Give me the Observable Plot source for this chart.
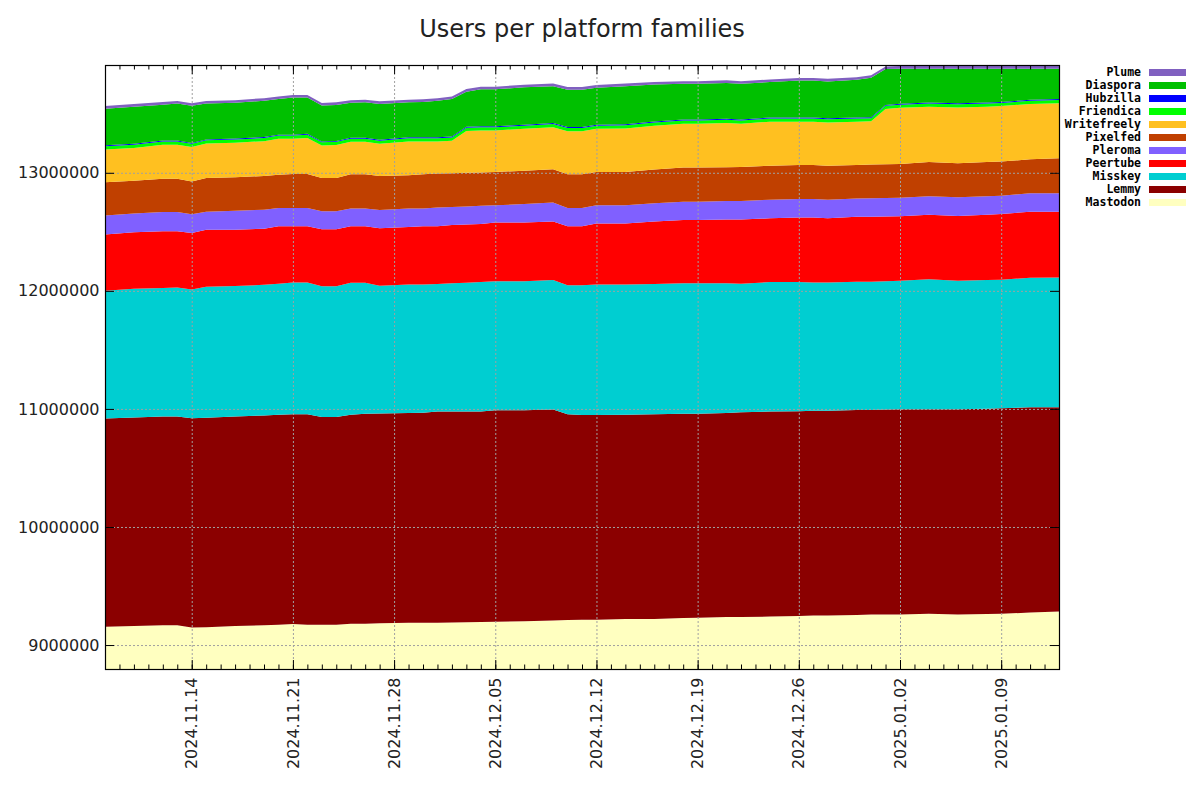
<!DOCTYPE html>
<html>
<head>
<meta charset="utf-8">
<script src="https://cdn.jsdelivr.net/npm/d3@7"></script>
<script src="https://cdn.jsdelivr.net/npm/@observablehq/plot@0.6"></script>
<style>
  body { margin: 0; background: #fff; }
  #wrap { position: relative; width: 1200px; height: 800px; background: #fff; }
  #title { height: 33px; padding-top: 17px; line-height: 24px; text-align: center;
           font-family: "DejaVu Sans", sans-serif; font-size: 24px; color: #222;
           width: 954px; margin-left: 105px; }
  .lg-text { position: absolute; right: 59px; height: 13px; line-height: 13px;
             font-family: "DejaVu Sans Mono", monospace; font-weight: bold; font-size: 11.5px; color: #000; text-align: right; }
  .lg-sw { position: absolute; left: 1149px; width: 37px; height: 7px; }
</style>
</head>
<body>
<div id="wrap">
  <div id="title">Users per platform families</div>
  <div id="chart"></div>
  <div id="legend"></div>
</div>
<script>
// ---- data (users) ----
const dates = ["2024-11-08","2024-11-10","2024-11-12","2024-11-13","2024-11-14","2024-11-15","2024-11-17","2024-11-19","2024-11-20","2024-11-21","2024-11-22","2024-11-23","2024-11-24","2024-11-25","2024-11-26","2024-11-27","2024-11-29","2024-11-30","2024-12-01","2024-12-02","2024-12-03","2024-12-04","2024-12-05","2024-12-07","2024-12-09","2024-12-10","2024-12-11","2024-12-12","2024-12-14","2024-12-16","2024-12-18","2024-12-19","2024-12-21","2024-12-22","2024-12-24","2024-12-26","2024-12-27","2024-12-28","2024-12-30","2024-12-31","2025-01-01","2025-01-02","2025-01-04","2025-01-06","2025-01-08","2025-01-09","2025-01-11","2025-01-13"];

const mastodon = [9154000,9161000,9168000,9168000,9148000,9151000,9161000,9168000,9172000,9178000,9171000,9171000,9171000,9181000,9181000,9184000,9188000,9188000,9188000,9191000,9193000,9195000,9198000,9201000,9208000,9212000,9215000,9215000,9221000,9221000,9228000,9231000,9238000,9238000,9241000,9245000,9251000,9251000,9255000,9258000,9258000,9258000,9265000,9258000,9262000,9265000,9275000,9285000];
const lemmy = [1764000,1767000,1767000,1767000,1773000,1774000,1774000,1777000,1779000,1777000,1784000,1760000,1760000,1770000,1777000,1778000,1777000,1780000,1790000,1787000,1785000,1783000,1790000,1787000,1787000,1743000,1733000,1733000,1730000,1734000,1730000,1727000,1727000,1733000,1737000,1736000,1734000,1734000,1736000,1733000,1737000,1740000,1733000,1740000,1739000,1740000,1740000,1730000];
const misskey = [1083000,1090000,1090000,1093000,1090000,1109000,1106000,1106000,1110000,1116000,1116000,1107000,1107000,1117000,1110000,1082000,1089000,1086000,1080000,1086000,1090000,1096000,1093000,1093000,1096000,1092000,1099000,1106000,1103000,1103000,1106000,1106000,1099000,1090000,1096000,1093000,1086000,1086000,1087000,1087000,1086000,1087000,1100000,1087000,1090000,1090000,1096000,1099000];
const peertube = [476000,479000,479000,476000,479000,483000,476000,476000,486000,476000,476000,483000,483000,479000,479000,487000,486000,493000,489000,493000,494000,493000,497000,497000,497000,500000,500000,517000,517000,530000,537000,537000,540000,543000,540000,547000,550000,543000,550000,550000,549000,546000,546000,549000,553000,555000,560000,557000];
const pleroma = [161000,158000,164000,164000,158000,154000,161000,161000,155000,155000,155000,154000,154000,151000,151000,154000,158000,151000,158000,153000,153000,153000,147000,157000,161000,155000,155000,154000,154000,154000,154000,154000,158000,158000,158000,158000,158000,158000,154000,157000,157000,158000,158000,158000,158000,155000,155000,155000];
const pixelfed = [282000,278000,282000,282000,278000,285000,285000,285000,281000,288000,288000,281000,281000,289000,289000,288000,282000,289000,288000,287000,285000,283000,282000,282000,281000,285000,285000,282000,282000,285000,289000,289000,285000,288000,288000,288000,288000,288000,285000,285000,285000,285000,289000,288000,289000,290000,288000,298000];
const writefreely = [278000,278000,288000,288000,292000,292000,292000,295000,305000,298000,305000,275000,279000,275000,275000,272000,285000,278000,272000,275000,355000,356000,352000,355000,356000,365000,365000,365000,369000,372000,372000,372000,375000,366000,373000,366000,366000,366000,366000,366000,468000,476000,469000,473000,469000,470000,469000,466000];
const friendica = [27000,27000,27000,27000,27000,27000,27000,27000,27000,27000,27000,27000,27000,27000,27000,27000,27000,27000,27000,27000,27000,27000,27000,27000,27000,27000,27000,27000,27000,27000,27000,27000,27000,27000,27000,27000,27000,27000,27000,27000,27000,27000,27000,27000,27000,27000,27000,27000];
const hubzilla = [8000,8000,8000,8000,8000,8000,8000,8000,8000,8000,8000,8000,8000,8000,8000,8000,8000,8000,8000,8000,8000,8000,8000,8000,8000,8000,8000,8000,8000,8000,8000,8000,8000,8000,8000,8000,8000,8000,8000,8000,8000,8000,8000,8000,8000,8000,8000,8000];
const diaspora = [310000,314000,304000,314000,314000,304000,303000,307000,301000,314000,307000,304000,305000,296000,300000,303000,297000,300000,310000,317000,297000,313000,313000,317000,313000,317000,317000,314000,323000,314000,303000,303000,304000,303000,300000,313000,313000,313000,320000,334000,304000,297000,287000,294000,287000,282000,264000,257000];
const plume = [22000,22000,22000,22000,22000,22000,22000,22000,22000,22000,22000,22000,22000,22000,22000,22000,22000,22000,22000,22000,22000,22000,22000,22000,22000,22000,22000,22000,22000,22000,22000,22000,22000,22000,22000,22000,22000,22000,22000,22000,22000,22000,22000,22000,22000,22000,22000,22000];

// stacking order, bottom to top
const names = ["Mastodon","Lemmy","Misskey","Peertube","Pleroma","Pixelfed","Writefreely","Friendica","Hubzilla","Diaspora","Plume"];
const colors = ["#ffffc0","#8b0000","#00ced1","#ff0000","#8060ff","#c04000","#ffc020","#00ff00","#0000ff","#00c000","#8060c0"];

const xTickLabels = ["2024.11.14","2024.11.21","2024.11.28","2024.12.05","2024.12.12","2024.12.19","2024.12.26","2025.01.02","2025.01.09"];
const yTicks = [9000000,10000000,11000000,12000000,13000000];
const xDomain = ["2024-11-08","2025-01-13"];
const yDomain = [8797000, 13913000];

// ---- build ----
const seriesValues = [mastodon, lemmy, misskey, peertube, pleroma, pixelfed, writefreely, friendica, hubzilla, diaspora, plume];
const rows = [];
dates.forEach((d, i) => names.forEach((n, j) => rows.push({date: new Date(d), name: n, value: seriesValues[j][i]})));

const xTicks = xTickLabels.map(s => new Date(s.replace(/\./g, "-")));
const xd = xDomain.map(s => new Date(s));
const minor = d3.utcDay.range(xd[0], d3.utcDay.offset(xd[1], 1));

const W = 1200, H = 750, mL = 105, mR = 141, mT = 15, mB = 131;
const plotH = H - mT - mB, plotW = W - mL - mR;
const grid = {stroke: "#a0a0a0", strokeWidth: 1, strokeDasharray: "2,2"};

const chart = Plot.plot({
  width: W, height: H,
  marginLeft: mL, marginRight: mR, marginTop: mT, marginBottom: mB,
  style: {fontFamily: "DejaVu Sans, sans-serif", fontSize: "16px", color: "#222", background: "#fff"},
  x: {type: "utc", domain: xd},
  y: {domain: yDomain},
  color: {domain: names, range: colors},
  marks: [
    Plot.areaY(rows, {x: "date", y: "value", z: "name", fill: "name", order: names, clip: true}),
    Plot.ruleX(xTicks, {...grid}),
    Plot.ruleY(yTicks, {...grid}),
    // inward ticks
    Plot.tickX(xTicks, {stroke: "#000", insetTop: plotH - 9}),
    Plot.tickX(xTicks, {stroke: "#000", insetBottom: plotH - 9}),
    Plot.tickX(minor, {stroke: "#000", insetTop: plotH - 4.5}),
    Plot.tickX(minor, {stroke: "#000", insetBottom: plotH - 4.5}),
    Plot.tickY(yTicks, {stroke: "#000", insetRight: plotW - 9}),
    Plot.tickY(yTicks, {stroke: "#000", insetLeft: plotW - 9}),
    Plot.frame({stroke: "#000", strokeWidth: 1.2}),
    Plot.axisY(yTicks, {anchor: "left", tickSize: 0, tickPadding: 6, tickFormat: d => String(d), label: null}),
    Plot.axisX(xTicks, {anchor: "bottom", tickSize: 0, tickPadding: 8, tickRotate: -90, tickFormat: d3.utcFormat("%Y.%m.%d"), label: null})
  ]
});
document.getElementById("chart").appendChild(chart);

// legend (top to bottom: reverse of stack)
const lg = document.getElementById("legend");
names.slice().reverse().forEach((n, i) => {
  const c = colors[names.indexOf(n)];
  const cy = 72.7 + i * 13;
  const t = document.createElement("div");
  t.className = "lg-text"; t.textContent = n; t.style.top = (cy - 6.5) + "px";
  const s = document.createElement("div");
  s.className = "lg-sw"; s.style.background = c; s.style.top = (cy - 3.5) + "px";
  lg.appendChild(t); lg.appendChild(s);
});
</script>
</body>
</html>
